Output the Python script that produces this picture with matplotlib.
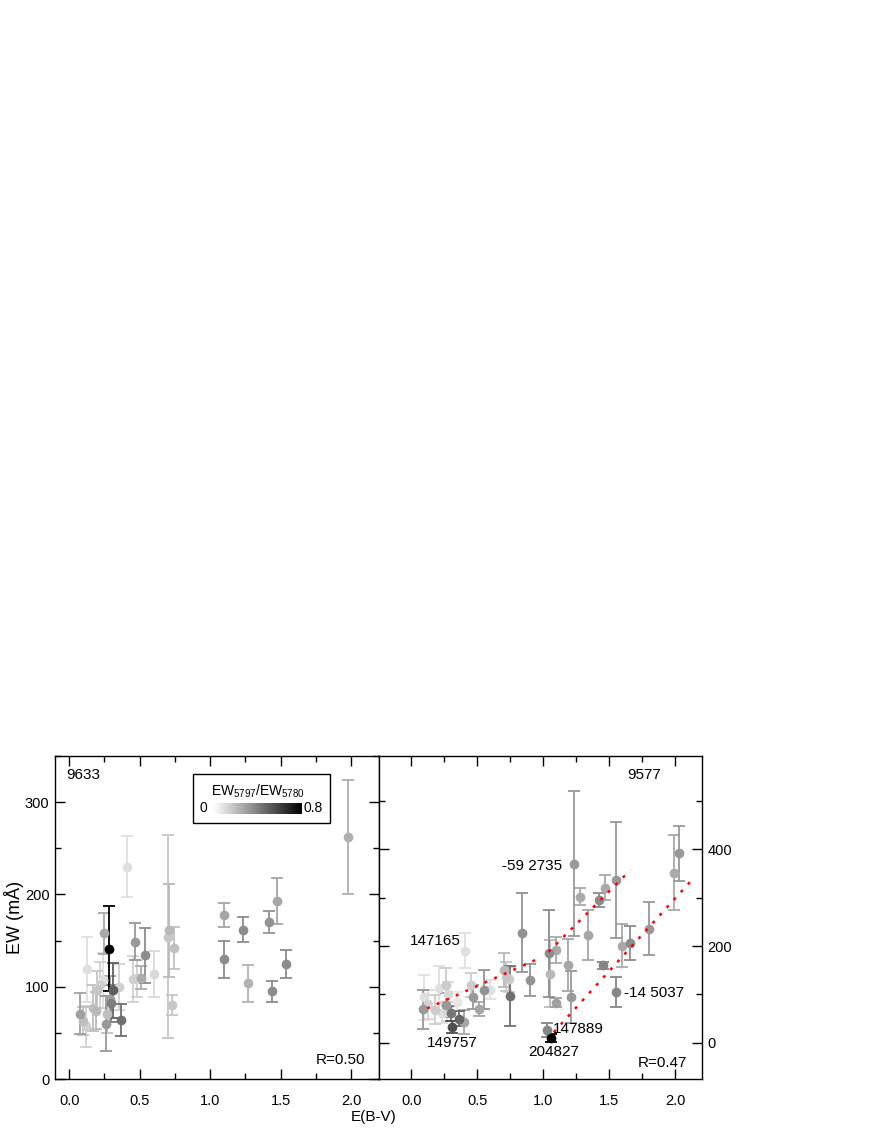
import numpy as np
import matplotlib
matplotlib.use("Agg")
import matplotlib.pyplot as plt
from matplotlib.ticker import MultipleLocator
from matplotlib.colors import Normalize
from matplotlib.patches import Rectangle

plt.rcParams['font.family'] = ['Liberation Sans', 'DejaVu Sans']
plt.rcParams['mathtext.fontset'] = 'custom'
plt.rcParams['mathtext.rm'] = 'Liberation Sans'
plt.rcParams['mathtext.default'] = 'regular'

# left panel: DIB 9633
ebv_9633 = [1.98, 0.41, 1.10, 1.10, 1.23, 1.27, 1.42, 1.47, 1.44, 1.54,
            0.70, 0.71, 0.74, 0.73, 0.47, 0.54, 0.60, 0.51, 0.45, 0.48,
            0.25, 0.28, 0.31, 0.30, 0.37, 0.13, 0.08, 0.12, 0.10, 0.17,
            0.22, 0.24, 0.26, 0.35, 0.20, 0.29, 0.27, 0.19]
ew_9633 = [262, 230, 178, 130, 162, 104, 170, 193, 95, 125,
           154, 161, 142, 80, 149, 134, 114, 110, 108, 109,
           158, 141, 96, 82, 64, 119, 71, 57, 63, 77,
           102, 107, 60, 100, 97, 87, 70, 74]
err_9633 = [62, 33, 13, 20, 14, 20, 12, 25, 11, 15,
            110, 50, 23, 11, 20, 30, 25, 12, 25, 20,
            22, 46, 30, 20, 17, 35, 22, 22, 15, 25,
            25, 30, 30, 25, 20, 25, 20, 20]
ratio_9633 = [0.25, 0.10, 0.28, 0.36, 0.36, 0.24, 0.34, 0.28, 0.36, 0.36,
              0.18, 0.22, 0.20, 0.18, 0.32, 0.36, 0.12, 0.26, 0.15, 0.15,
              0.27, 0.80, 0.50, 0.40, 0.45, 0.10, 0.30, 0.15, 0.20, 0.20,
              0.15, 0.10, 0.32, 0.15, 0.18, 0.30, 0.20, 0.22]

# right panel: DIB 9577
ebv_9577 = [2.03, 1.99, 1.80, 1.66, 1.60, 1.55, 1.47, 1.42, 1.34, 1.28,
            1.23, 1.45, 1.55, 1.19, 1.21, 1.10, 1.04, 1.05, 1.10, 1.03,
            1.06, 0.84, 0.90, 0.75, 0.70, 0.72, 0.74, 0.60, 0.55, 0.47,
            0.51, 0.45, 0.41, 0.40, 0.36, 0.31, 0.30, 0.28, 0.26, 0.21,
            0.09, 0.10, 0.13, 0.18, 0.23, 0.26, 0.35, 0.27]
ew_9577 = [392, 352, 236, 207, 201, 337, 321, 295, 223, 302,
           370, 160, 105, 161, 95, 192, 185, 143, 83, 26,
           10, 228, 130, 97, 150, 137, 131, 110, 110, 94,
           70, 119, 190, 43, 50, 33, 61, 100, 119, 113,
           69, 94, 80, 68, 61, 78, 85, 64]
err_9577 = [57, 78, 55, 35, 45, 120, 26, 15, 52, 18,
            150, 8, 32, 53, 54, 27, 90, 70, 10, 14,
            8, 82, 33, 62, 35, 30, 25, 20, 41, 25,
            15, 25, 36, 25, 15, 12, 15, 25, 35, 45,
            40, 46, 30, 30, 20, 25, 20, 20]
ratio_9577 = [0.32, 0.27, 0.32, 0.36, 0.27, 0.32, 0.27, 0.36, 0.28, 0.27,
              0.32, 0.38, 0.38, 0.28, 0.32, 0.27, 0.36, 0.22, 0.30, 0.38,
              0.80, 0.34, 0.34, 0.45, 0.22, 0.18, 0.16, 0.10, 0.34, 0.32,
              0.28, 0.16, 0.10, 0.28, 0.48, 0.55, 0.43, 0.12, 0.16, 0.10,
              0.32, 0.10, 0.14, 0.16, 0.10, 0.32, 0.08, 0.12]

# star labels in the 9577 panel
star_names = ["-59 2735", "147165", "149757", "147889", "204827", "-14 5037"]
star_x = [0.69, 0.18, 0.31, 1.07, 1.08, 1.61]
star_y = [366, 211, 0, 28, -19, 103]
star_ha = ["left", "center", "center", "left", "center", "left"]

# red dotted trend lines (E(B-V), EW end points)
trend_x = [[0.12, 0.94], [1.04, 1.66], [1.08, 2.12]]
trend_y = [[71, 171], [188, 357], [22, 335]]

cmap = plt.cm.gray_r
norm = Normalize(0, 0.8)

fig = plt.figure(figsize=(8.72, 11.28), dpi=100)
ax1 = fig.add_axes([0.0631, 0.0434, 0.3721, 0.2864])
ax2 = fig.add_axes([0.4352, 0.0434, 0.3695, 0.2864])


def draw_points(ax, xs, ys, es, rs):
    order = np.argsort(rs)
    for i in order:
        c = cmap(norm(rs[i]))
        ax.errorbar(xs[i], ys[i], yerr=es[i], fmt='o', color=c, ecolor=c,
                    ms=7, elinewidth=1.3, capsize=4.5, capthick=1.3,
                    mec='none')


def style_axes(ax):
    ax.tick_params(which='both', direction='in', top=True, bottom=True,
                   left=True, right=True, labelsize=10.5, width=1)
    ax.tick_params(which='major', length=7.5)
    ax.tick_params(which='minor', length=4)
    ax.tick_params(axis='x', pad=11)
    ax.xaxis.set_major_locator(MultipleLocator(0.5))
    ax.xaxis.set_minor_locator(MultipleLocator(0.25))
    ax.xaxis.set_major_formatter(plt.FormatStrFormatter('%.1f'))
    for s in ax.spines.values():
        s.set_linewidth(1)


draw_points(ax1, ebv_9633, ew_9633, err_9633, ratio_9633)
ax1.set_xlim(-0.1, 2.2)
ax1.set_ylim(0, 350)
style_axes(ax1)
ax1.yaxis.set_major_locator(MultipleLocator(100))
ax1.yaxis.set_minor_locator(MultipleLocator(50))
ax1.tick_params(axis='y', pad=4)
ax1.set_ylabel("EW (mÅ)", fontsize=13)
ax1.yaxis.set_label_coords(-0.095, 0.5)
ax1.text(0.035, 0.94, "9633", transform=ax1.transAxes, fontsize=11,
         ha='left', va='center')
ax1.text(0.955, 0.06, "R=0.50", transform=ax1.transAxes, fontsize=11,
         ha='right', va='center')

# colour scale box
ax1.add_patch(Rectangle((0.424, 0.793), 0.423, 0.151, transform=ax1.transAxes,
                        fill=False, ec='black', lw=1, zorder=5))
ax1.text(0.626, 0.892, r"EW$_{5797}$/EW$_{5780}$", transform=ax1.transAxes,
         fontsize=10, ha='center', va='center', zorder=6)
ax1.text(0.458, 0.838, "0", transform=ax1.transAxes, fontsize=10,
         ha='center', va='center', zorder=6)
ax1.text(0.767, 0.838, "0.8", transform=ax1.transAxes, fontsize=10,
         ha='left', va='center', zorder=6)
cax = ax1.inset_axes([0.487, 0.820, 0.274, 0.034])
cax.imshow(np.linspace(0, 0.8, 256)[None, :], aspect='auto', cmap=cmap,
           norm=norm)
cax.set_xticks([])
cax.set_yticks([])
for s in cax.spines.values():
    s.set_visible(False)

draw_points(ax2, ebv_9577, ew_9577, err_9577, ratio_9577)
for tx, ty in zip(trend_x, trend_y):
    ax2.plot(tx, ty, color='red', lw=1.8, ls=(0, (1.2, 3)), zorder=4)
for name, sx, sy, ha in zip(star_names, star_x, star_y, star_ha):
    ax2.text(sx, sy, name, fontsize=11, ha=ha, va='center', zorder=6)
ax2.set_xlim(-0.24, 2.2)
ax2.set_ylim(-75, 593)
style_axes(ax2)
ax2.yaxis.set_major_locator(MultipleLocator(200))
ax2.yaxis.set_minor_locator(MultipleLocator(100))
ax2.tick_params(axis='y', labelleft=False, labelright=True, pad=4)
ax2.text(0.82, 0.94, "9577", transform=ax2.transAxes, fontsize=11,
         ha='center', va='center')
ax2.text(0.955, 0.05, "R=0.47", transform=ax2.transAxes, fontsize=11,
         ha='right', va='center')

fig.text(0.428, 0.0098, "E(B-V)", fontsize=11, ha='center', va='center')

fig.savefig("out.png", dpi=100)
